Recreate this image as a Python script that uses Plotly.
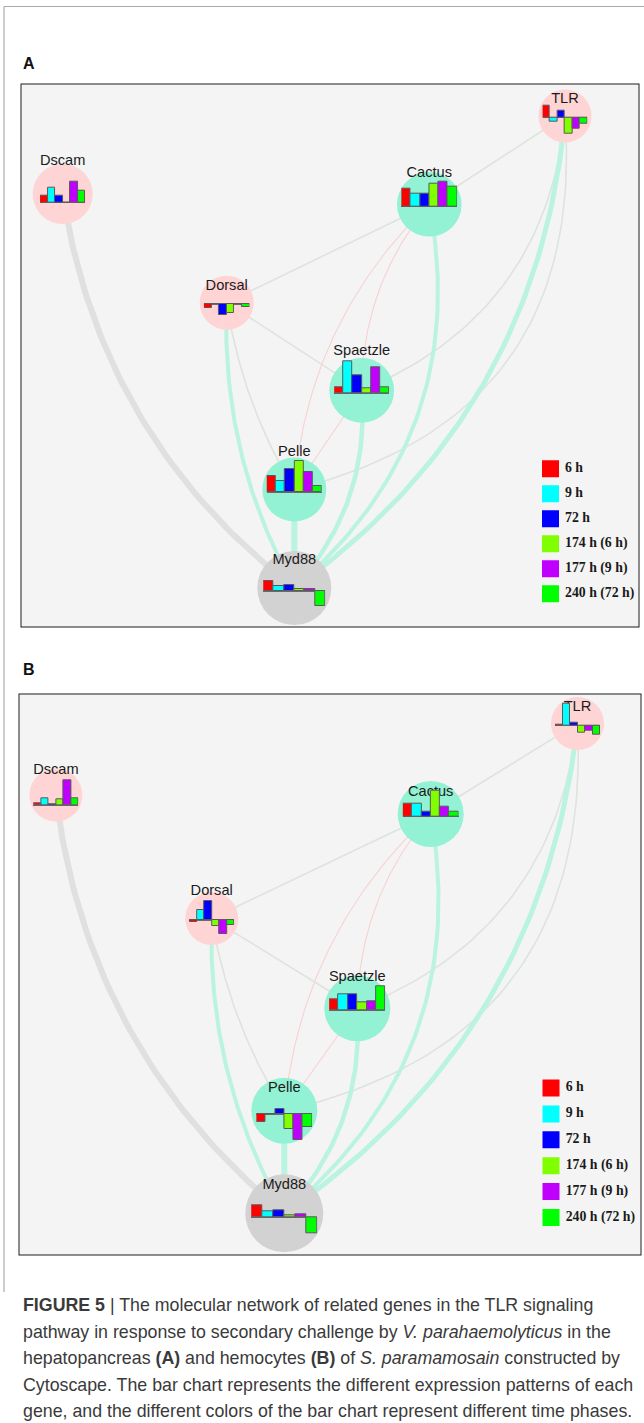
import numpy as np
import plotly.graph_objects as go

# ======================= DATA =======================
time_points = ["6 h", "9 h", "72 h", "174 h (6 h)", "177 h (9 h)", "240 h (72 h)"]
genes = ["Dscam", "TLR", "Cactus", "Dorsal", "Spaetzle", "Pelle", "Myd88"]
gene_group = ["pink", "pink", "aqua", "pink", "aqua", "aqua", "gray"]

# relative expression (bar heights of the node bar charts), order = time_points
# (A) hepatopancreas
hep_dscam = [7.0, 15.0, 7.0, 0.0, 21.0, 12.3]
hep_tlr = [12.0, -3.7, 7.3, -16.3, -11.3, -6.3]
hep_cactus = [18.3, 13.3, 13.0, 23.3, 25.0, 19.7]
hep_dorsal = [-3.7, 0.0, -11.0, -9.3, 0.0, -2.7]
hep_spaetzle = [5.7, 31.7, 18.3, 5.0, 26.0, 6.0]
hep_pelle = [16.0, 11.3, 22.7, 31.0, 20.3, 5.7]
hep_myd88 = [10.0, 5.0, 5.7, 1.7, 1.7, -15.0]
# (B) hemocytes
hem_dscam = [2.5, 7.5, 1.5, 6.0, 25.5, 7.5]
hem_tlr = [1.0, 22.3, 3.3, -7.0, -5.3, -9.3]
hem_cactus = [13.3, 13.3, 5.0, 25.7, 10.0, 5.3]
hem_dorsal = [-2.0, 10.0, 19.0, -6.0, -14.3, -5.0]
hem_spaetzle = [11.0, 16.3, 16.3, 7.7, 8.7, 23.7]
hem_pelle = [-8.0, 0.0, 5.3, -14.7, -26.3, -12.7]
hem_myd88 = [11.7, 5.7, 7.3, 2.0, 2.7, -16.0]

# network edges
edge_source = ["Dorsal", "Dorsal", "Dorsal", "Cactus", "Cactus", "Cactus", "Spaetzle",
               "Spaetzle", "Pelle", "Dscam", "Dorsal", "Cactus", "Spaetzle", "Pelle", "TLR"]
edge_target = ["Pelle", "Cactus", "Spaetzle", "TLR", "Pelle", "Spaetzle", "Pelle",
               "TLR", "TLR", "Myd88", "Myd88", "Myd88", "Myd88", "Myd88", "Myd88"]
edge_kind = ["thin", "thin", "thin", "thin", "pink", "pink", "pink",
             "thin", "thin", "gray", "aqua", "aqua", "aqua", "aqua", "aqua"]

# ======================= STYLE / LAYOUT =======================
W, H = 644, 1423
BAR_COLORS = ["#FF0000", "#00FFFF", "#0000FF", "#80FF00", "#BF00FF", "#00FF00"]
NODE_FILL = {"pink": "#FFD4D4", "aqua": "#93F1D4", "gray": "#D2D2D2"}
EDGE_COLOR = {"thin": "#DCE4DB", "pink": "#F8D2D2", "gray": "#E0E0E0", "aqua": "#BAF4E0"}
edge_width = [1.6, 1.6, 1.6, 1.6, 1.1, 1.1, 1.1, 1.6, 1.6, 6.0, 4.0, 4.0, 4.5, 6.0, 5.0]
edge_bend = [0.10, 0.0, 0.0, 0.0, 0.19, 0.18, 0.0, 0.30, 0.42, 0.20, 0.14, -0.29, -0.217, 0.0, -0.23]

PANELS = [
    dict(letter="A", letter_y=63, box=(20.5, 83.5, 639.5, 627.5),
         x=[62.7, 565.0, 429.3, 226.7, 361.7, 294.3, 294.3],
         y=[194.0, 116.0, 204.3, 302.7, 390.3, 489.5, 588.0],
         r=[30.0, 26.5, 32.3, 27.0, 32.4, 32.0, 37.0],
         label_y=[161.5, 99.0, 173.5, 286.0, 351.5, 452.7, 560.7],
         chart_w=[45.3, 44.7, 55.7, 45.5, 55.0, 55.0, 62.0],
         base_dy=[8.7, 1.7, 2.4, 1.3, 3.0, 2.5, 3.0],
         values=[hep_dscam, hep_tlr, hep_cactus, hep_dorsal, hep_spaetzle, hep_pelle, hep_myd88],
         legend=(550.5, 468.7, 25.0, 565.0)),
    dict(letter="B", letter_y=669, box=(18.5, 693.5, 641.5, 1255.5),
         x=[55.9, 577.5, 430.7, 211.7, 357.3, 284.3, 284.3],
         y=[795.0, 723.4, 814.0, 918.5, 1008.3, 1110.7, 1213.3],
         r=[26.5, 26.5, 33.0, 26.5, 33.0, 33.0, 39.0],
         label_y=[770.0, 707.5, 792.0, 891.0, 977.5, 1088.3, 1185.0],
         chart_w=[45.0, 45.0, 55.7, 45.0, 56.3, 55.7, 66.0],
         base_dy=[10.3, 2.3, 2.7, 1.5, 2.0, 3.3, 4.0],
         values=[hem_dscam, hem_tlr, hem_cactus, hem_dorsal, hem_spaetzle, hem_pelle, hem_myd88],
         legend=(551.0, 1088.0, 25.9, 565.7)),
]

CAPTION = [
    "<b>FIGURE 5</b> | The molecular network of related genes in the TLR signaling",
    "pathway in response to secondary challenge by <i>V. parahaemolyticus</i> in the",
    "hepatopancreas <b>(A)</b> and hemocytes <b>(B)</b> of <i>S. paramamosain</i> constructed by",
    "Cytoscape. The bar chart represents the different expression patterns of each",
    "gene, and the different colors of the bar chart represent different time phases.",
]


def bezier(p0, p1, bend, n=60):
    p0 = np.asarray(p0, float)
    p1 = np.asarray(p1, float)
    d = p1 - p0
    L = float(np.hypot(d[0], d[1]))
    nrm = np.array([-d[1], d[0]]) / L
    c = (p0 + p1) / 2 + bend * L * nrm
    t = np.linspace(0, 1, n)[:, None]
    pts = (1 - t) ** 2 * p0 + 2 * (1 - t) * t * c + t ** 2 * p1
    return pts[:, 0], pts[:, 1]


fig = go.Figure()
layout_axes = {}
shapes = []
annotations = []


def aname(k):
    return "" if k == 1 else str(k)


# main panel axes (1 unit = 1 px)
for pi, P in enumerate(PANELS):
    k = pi + 1
    x0, y0, x1, y1 = P["box"]
    layout_axes["xaxis" + aname(k)] = dict(domain=[x0 / W, x1 / W], range=[x0, x1], visible=False,
                                           fixedrange=True, anchor="y" + aname(k))
    layout_axes["yaxis" + aname(k)] = dict(domain=[1 - y1 / H, 1 - y0 / H], range=[y1, y0], visible=False,
                                           fixedrange=True, anchor="x" + aname(k))
    xr, yr = "x" + aname(k), "y" + aname(k)
    shapes.append(dict(type="rect", xref=xr, yref=yr, x0=x0, y0=y0, x1=x1, y1=y1, layer="below",
                       fillcolor="#F4F4F4", line=dict(color="#1E1E1E", width=2)))
    annotations.append(dict(text="<b>" + P["letter"] + "</b>", xref="paper", yref="paper",
                            x=20.5 / W, y=1 - P["letter_y"] / H, xanchor="left", yanchor="middle",
                            showarrow=False, font=dict(family="Liberation Sans, Arial", size=16, color="#111")))

    pos = {g: (P["x"][i], P["y"][i]) for i, g in enumerate(genes)}
    order = [i for i, kd in enumerate(edge_kind) if kd in ("thin", "pink")] + \
            [i for i, kd in enumerate(edge_kind) if kd == "gray"] + \
            [i for i, kd in enumerate(edge_kind) if kd == "aqua"]
    for ei in order:
        ex, ey = bezier(pos[edge_source[ei]], pos[edge_target[ei]], edge_bend[ei])
        fig.add_trace(go.Scatter(x=ex, y=ey, mode="lines", xaxis=xr, yaxis=yr,
                                 line=dict(color=EDGE_COLOR[edge_kind[ei]], width=edge_width[ei]),
                                 hoverinfo="skip", showlegend=False))
    # nodes
    fig.add_trace(go.Scatter(x=P["x"], y=P["y"], mode="markers", xaxis=xr, yaxis=yr,
                             marker=dict(size=[2 * r for r in P["r"]], opacity=1,
                                         color=[NODE_FILL[g] for g in gene_group], line=dict(width=0)),
                             cliponaxis=False, hoverinfo="skip", showlegend=False))
    # labels
    fig.add_trace(go.Scatter(x=P["x"], y=P["label_y"], mode="text", text=genes, xaxis=xr, yaxis=yr,
                             textposition="middle center",
                             textfont=dict(family="Liberation Sans, Arial", size=14.6, color="#1A1A1A"),
                             cliponaxis=False, hoverinfo="skip", showlegend=False))
    # legend
    lx, ly, lstep, ltx = P["legend"]
    ys = [ly + i * lstep for i in range(len(time_points))]
    fig.add_trace(go.Scatter(x=[lx] * len(time_points), y=ys, mode="markers", xaxis=xr, yaxis=yr,
                             marker=dict(symbol="square", size=17, color=BAR_COLORS,
                                         line=dict(width=0)),
                             hoverinfo="skip", showlegend=False))
    fig.add_trace(go.Scatter(x=[ltx] * len(time_points), y=ys, mode="text", text=time_points,
                             textposition="middle right", xaxis=xr, yaxis=yr,
                             textfont=dict(family="Liberation Serif, Times New Roman", size=13.8,
                                           color="#1A1A1A", weight="bold"),
                             cliponaxis=False, hoverinfo="skip", showlegend=False))

# mini bar charts inside nodes (1 value unit = 1 px)
k = len(PANELS)
HALF = 40.0
for P in PANELS:
    for i, g in enumerate(genes):
        k += 1
        cx = P["x"][i]
        by = P["y"][i] + P["base_dy"][i]
        w = P["chart_w"][i]
        layout_axes["xaxis" + aname(k)] = dict(domain=[(cx - w / 2) / W, (cx + w / 2) / W], range=[-0.5, 5.5],
                                               visible=True, showgrid=False, zeroline=False, showline=False,
                                               showticklabels=False, ticks="", fixedrange=True,
                                               anchor="y" + aname(k))
        layout_axes["yaxis" + aname(k)] = dict(domain=[1 - (by + HALF) / H, 1 - (by - HALF) / H],
                                               range=[-HALF, HALF], showgrid=False, zeroline=True,
                                               zerolinecolor="#6A6A6A", zerolinewidth=1, showline=False,
                                               showticklabels=False, ticks="", fixedrange=True,
                                               anchor="x" + aname(k))
        fig.add_trace(go.Bar(x=list(range(len(time_points))), y=P["values"][i], width=1.0,
                             marker=dict(color=BAR_COLORS, line=dict(color="#5A5A5A", width=1)),
                             xaxis="x" + aname(k), yaxis="y" + aname(k),
                             cliponaxis=False, hoverinfo="skip", showlegend=False))

# outer frame
shapes.append(dict(type="line", xref="paper", yref="paper", x0=4 / W, x1=1, y0=1 - 6.5 / H, y1=1 - 6.5 / H,
                   line=dict(color="#ABABAB", width=1.2)))
shapes.append(dict(type="line", xref="paper", yref="paper", x0=4 / W, x1=4 / W, y0=1 - 6.5 / H, y1=1 - 1292 / H,
                   line=dict(color="#ABABAB", width=1.2)))

# caption
for li, line in enumerate(CAPTION):
    annotations.append(dict(text=line, xref="paper", yref="paper", x=20.5 / W, y=1 - (1305 + li * 26.6) / H,
                            xanchor="left", yanchor="middle", showarrow=False, align="left",
                            font=dict(family="Liberation Sans, Arial", size=17.8, color="#3A3A3A")))

fig.update_layout(width=W, height=H, autosize=False, margin=dict(l=0, r=0, t=0, b=0, pad=0),
                  paper_bgcolor="white", plot_bgcolor="rgba(0,0,0,0)", bargap=0, barmode="overlay",
                  showlegend=False, shapes=shapes, annotations=annotations, **layout_axes)

fig.write_html("out.html", config={"displayModeBar": False},
               post_script="document.body.style.margin='0px';document.body.style.padding='0px';")
